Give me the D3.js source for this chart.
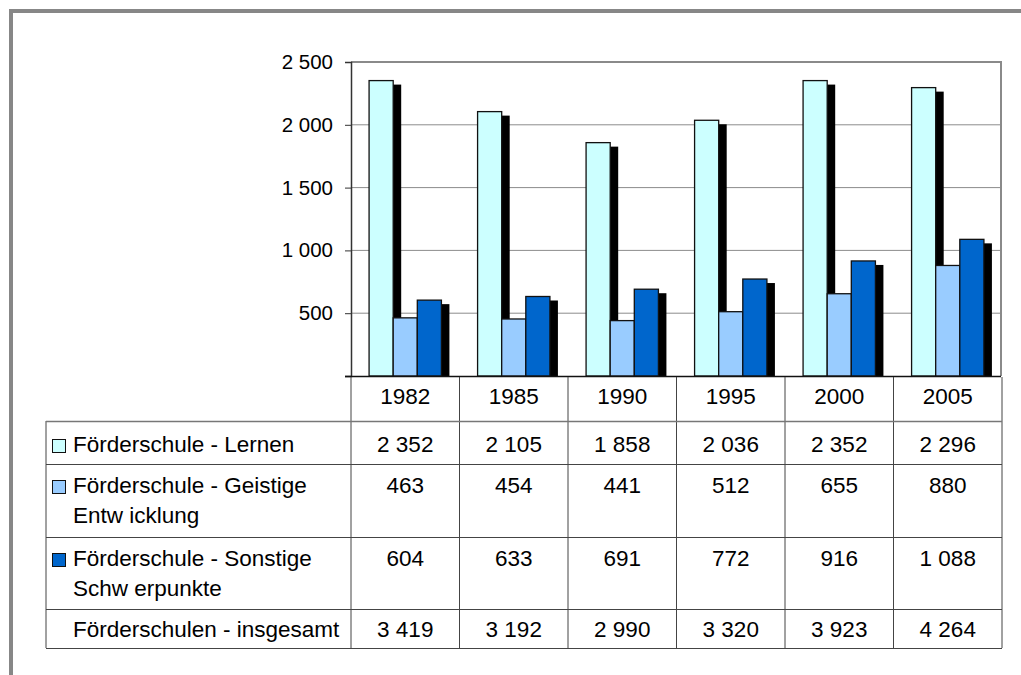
<!DOCTYPE html>
<html>
<head>
<meta charset="utf-8">
<script src="https://cdn.jsdelivr.net/npm/d3@7"></script>
<style>
  body { margin: 0; background: #fff; }
  svg { display: block; font-family: "Liberation Sans", Arial, sans-serif; }
</style>
</head>
<body>
<div id="chart"></div>
<script>
// Förderschulen chart with data table

var years = ["1982", "1985", "1990", "1995", "2000", "2005"]
var lernen = [2352, 2105, 1858, 2036, 2352, 2296]
var geistig = [463, 454, 441, 512, 655, 880]
var sonstige = [604, 633, 691, 772, 916, 1088]
var insgesamt = [3419, 3192, 2990, 3320, 3923, 4264]
var yTicks = [0, 500, 1000, 1500, 2000, 2500]

var seriesNames = [
  ["Förderschule - Lernen"],
  ["Förderschule - Geistige", "Entw icklung"],
  ["Förderschule - Sonstige", "Schw erpunkte"],
  ["Förderschulen - insgesamt"]
]
var seriesValues = [lernen, geistig, sonstige, insgesamt]
var seriesColors = ["#ccffff", "#99ccff", "#0066cc", null]

var width = 1021
var height = 675
var tableFont = 22.5

var svg = d3.select("#chart")
  .append("svg")
    .attr("width", width)
    .attr("height", height)

// outer frame (only top and left visible)
svg.append("rect")
  .attr("x", 11).attr("y", 11)
  .attr("width", 1030).attr("height", 700)
  .attr("fill", "none")
  .attr("stroke", "#878787")
  .attr("stroke-width", 4)

var fmt = d3.formatLocale({ decimal: ",", thousands: " ", grouping: [3], currency: ["", ""] }).format(",d")

var x = d3.scaleBand()
  .domain(years)
  .range([351, 1002])

var y = d3.scaleLinear()
  .domain([0, 2500])
  .range([376, 62])

// gridlines
svg.append("g")
  .selectAll("line")
  .data(yTicks.slice(1, -1))
  .enter()
  .append("line")
    .attr("x1", 351).attr("x2", 1001)
    .attr("y1", function(d) { return y(d) })
    .attr("y2", function(d) { return y(d) })
    .attr("stroke", "#8c8c8c")
    .attr("stroke-width", 1)

// plot border top / right
svg.append("path")
  .attr("d", "M351," + y(2500) + "H1001V376")
  .attr("fill", "none")
  .attr("stroke", "#8a8a8a")
  .attr("stroke-width", 2)

// bars with shadows
var bw = x.bandwidth() / 4.5
var shadowDx = 8, shadowDy = 4
var barSeries = [lernen, geistig, sonstige]

var groups = svg.append("g")
  .selectAll("g")
  .data(years)
  .enter()
  .append("g")

groups.each(function(yr, i) {
  var g = d3.select(this)
  barSeries.forEach(function(vals, s) {
    var bx = x(yr) + 0.75 * bw + s * bw
    var top = y(vals[i])
    g.append("rect")
      .attr("x", bx + shadowDx)
      .attr("y", top + shadowDy)
      .attr("width", bw)
      .attr("height", Math.max(0, y(0) - top - shadowDy))
      .attr("fill", "#000")
    g.append("rect")
      .attr("x", bx)
      .attr("y", top)
      .attr("width", bw)
      .attr("height", y(0) - top)
      .attr("fill", seriesColors[s])
      .attr("stroke", "#111")
      .attr("stroke-width", 1.3)
  })
})

// y axis
var yAxis = svg.append("g")
  .attr("transform", "translate(351,0)")
  .call(d3.axisLeft(y).tickValues(yTicks).tickSize(6).tickPadding(12)
    .tickFormat(function(d) { return d === 0 ? "" : fmt(d) }))
yAxis.select(".domain").attr("stroke", "#333").attr("stroke-width", 1.5)
yAxis.selectAll(".tick line").attr("stroke", "#333")
yAxis.selectAll("text")
  .attr("font-size", 20.5)
  .attr("fill", "#000")
  .attr("font-family", "Liberation Sans, Arial, sans-serif")

// baseline
svg.append("line")
  .attr("x1", 345).attr("x2", 1001)
  .attr("y1", 376.5).attr("y2", 376.5)
  .attr("stroke", "#111")
  .attr("stroke-width", 1.5)

// data table
var tableLeft = 46, tableRight = 1002
var rowTops = [421, 464, 537, 609, 648]
var rowBase = [452, 493, 566, 637]
var lineGap = 30
var table = svg.append("g")

// column lines
table.selectAll(".col")
  .data(years.map(function(d) { return x(d) }).concat([tableRight]))
  .enter()
  .append("line")
    .attr("x1", function(d) { return d }).attr("x2", function(d) { return d })
    .attr("y1", 377).attr("y2", 648)
    .attr("stroke", "#444")
    .attr("stroke-width", 1)

// left edge of label column
table.append("line")
  .attr("x1", tableLeft).attr("x2", tableLeft)
  .attr("y1", 421).attr("y2", 648)
  .attr("stroke", "#444")

// row lines
table.selectAll(".row")
  .data(rowTops)
  .enter()
  .append("line")
    .attr("x1", tableLeft).attr("x2", tableRight)
    .attr("y1", function(d) { return d + 0.5 }).attr("y2", function(d) { return d + 0.5 })
    .attr("stroke", function(d, i) { return i === 0 ? "#777" : "#444" })
    .attr("stroke-width", function(d, i) { return i === 0 ? 1.5 : 1 })

// year header
table.selectAll(".yr")
  .data(years)
  .enter()
  .append("text")
    .attr("x", function(d) { return x(d) + x.bandwidth() / 2 })
    .attr("y", 404)
    .attr("text-anchor", "middle")
    .attr("font-size", tableFont)
    .text(function(d) { return d })

seriesValues.forEach(function(vals, r) {
  // legend key
  if (seriesColors[r]) {
    table.append("rect")
      .attr("x", 52.5).attr("y", rowBase[r] - 12.5)
      .attr("width", 13).attr("height", 13)
      .attr("fill", seriesColors[r])
      .attr("stroke", "#111")
      .attr("stroke-width", 1)
  }
  // row label
  seriesNames[r].forEach(function(line, k) {
    table.append("text")
      .attr("x", 73)
      .attr("y", rowBase[r] + k * lineGap)
      .attr("font-size", tableFont)
      .text(line)
  })
  // values
  table.selectAll(null)
    .data(vals)
    .enter()
    .append("text")
      .attr("x", function(d, i) { return x(years[i]) + x.bandwidth() / 2 })
      .attr("y", rowBase[r])
      .attr("text-anchor", "middle")
      .attr("font-size", tableFont)
      .text(function(d) { return fmt(d) })
})
</script>
</body>
</html>
